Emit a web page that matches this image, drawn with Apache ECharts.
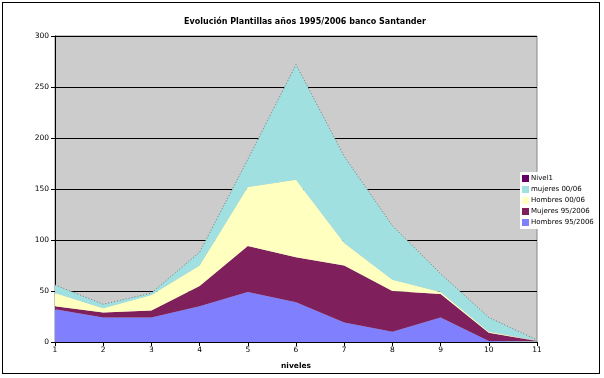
<!DOCTYPE html>
<html>
<head>
<meta charset="utf-8">
<script src="https://cdn.jsdelivr.net/npm/echarts@6/dist/echarts.min.js"></script>
<style>
  html, body { margin: 0; padding: 0; background: #fff; }
  #frame { position: absolute; left: 2px; top: 2px; width: 598px; height: 372px; border: 1px solid #000; box-sizing: border-box; }
  #chart { position: absolute; left: 0; top: 0; width: 604px; height: 378px; }
</style>
</head>
<body>
<div id="frame"></div>
<div id="chart"></div>
<script>
// niveles 1..11
const niveles = ["1", "2", "3", "4", "5", "6", "7", "8", "9", "10", "11"];
const hombres95 = [32, 24, 24, 35, 49, 39, 19, 10, 24, 1, 0];
const mujeres95 = [3, 5, 7, 20, 45, 44, 56, 40, 23, 8, 1];
const hombres00 = [13, 4, 15, 20, 58, 76, 22, 11, 2, 1, 0];
const mujeres00 = [8, 4, 2, 13, 27, 113, 85, 53, 18, 14, 1];
const nivel1 = [0, 0, 0, 0, 0, 0, 0, 0, 0, 0, 0];
const yTicks = [0, 50, 100, 150, 200, 250, 300];

const font = "DejaVu Sans";

// capa apilada de area
function capa(name, data, color) {
  return {
    name: name,
    type: "line",
    stack: "total",
    data: data,
    symbol: "none",
    lineStyle: { width: 0 },
    itemStyle: { color: color },
    areaStyle: { color: color, opacity: 1 },
    z: 3,
  };
}

const chart = echarts.init(document.getElementById("chart"));
chart.setOption({
  animation: false,
  title: {
    text: "Evolución Plantillas años 1995/2006 banco Santander",
    left: 300,
    textAlign: "center",
    top: 13,
    textStyle: { fontFamily: font, fontSize: 8, fontWeight: "bold", color: "#000" },
  },
  legend: {
    orient: "vertical",
    left: 520,
    top: 172,
    icon: "rect",
    itemWidth: 7,
    itemHeight: 7,
    itemGap: 4,
    padding: [3, 3, 3, 2],
    backgroundColor: "#fff",
    textStyle: { fontFamily: font, fontSize: 7, color: "#000", padding: [0, 0, 0, -3] },
    data: ["Nivel1", "mujeres 00/06", "Hombres 00/06", "Mujeres 95/2006", "Hombres 95/2006"],
  },
  grid: {
    left: 55,
    right: 67,
    top: 36,
    bottom: 36,
    show: true,
    backgroundColor: "#cccccc",
    borderColor: "#888",
    borderWidth: 1,
  },
  xAxis: {
    type: "category",
    data: niveles,
    boundaryGap: false,
    name: "niveles",
    nameLocation: "middle",
    nameGap: 20,
    nameTextStyle: { fontFamily: font, fontSize: 7.5, fontWeight: "bold", color: "#000" },
    axisLine: { lineStyle: { color: "#000", width: 1 } },
    axisTick: { show: true, length: 4, lineStyle: { color: "#000" } },
    axisLabel: { fontFamily: font, fontSize: 7.5, color: "#000", margin: 4 },
    splitLine: { show: false },
  },
  yAxis: {
    type: "value",
    min: yTicks[0],
    max: yTicks[yTicks.length - 1],
    interval: 50,
    axisLine: { show: true, lineStyle: { color: "#000", width: 1 } },
    axisTick: { show: true, length: 4, lineStyle: { color: "#000" } },
    axisLabel: { fontFamily: font, fontSize: 7.5, color: "#000", margin: 6 },
    splitLine: { show: true, lineStyle: { color: "#000", width: 1 } },
  },
  series: [
    capa("Hombres 95/2006", hombres95, "#8080ff"),
    capa("Mujeres 95/2006", mujeres95, "#7f1f5c"),
    capa("Hombres 00/06", hombres00, "#ffffc0"),
    capa("mujeres 00/06", mujeres00, "#a0e0e0"),
    {
      name: "Nivel1",
      type: "line",
      stack: "total",
      data: nivel1,
      symbol: "none",
      itemStyle: { color: "#660066" },
      lineStyle: { color: "#777", width: 1, type: [1, 2] },
      z: 4,
    },
  ],
});
</script>
</body>
</html>
